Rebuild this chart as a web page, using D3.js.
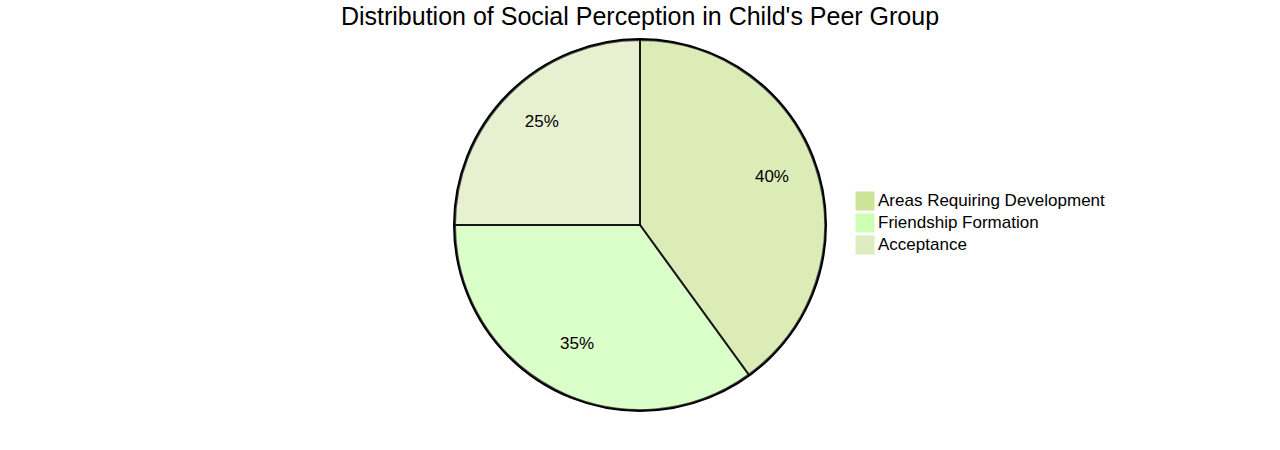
<!DOCTYPE html>
<html lang="en">
<head>
<meta charset="utf-8">
<title>Distribution of Social Perception in Child's Peer Group</title>
<script src="https://cdn.jsdelivr.net/npm/d3@7"></script>
<style>
  body { margin: 0; background: #fff; }
  text { font-family: "Liberation Sans", Arial, sans-serif; fill: #000; }
</style>
</head>
<body>
<script>

// Data
var labels = ["Areas Requiring Development", "Friendship Formation", "Acceptance"];
var values = [40, 35, 25];
var colors = ["#cde498", "#cdffb2", "#deecbf"];
var title = "Distribution of Social Perception in Child's Peer Group";

var width = 1280, height = 450;
var radius = Math.min(width, height) / 2 - 40;

var svg = d3.select("body").append("svg")
    .attr("width", width)
    .attr("height", height);

var g = svg.append("g")
    .attr("transform", "translate(" + width / 2 + "," + height / 2 + ")");

var data = labels.map(function(l, i) { return { label: l, value: values[i], color: colors[i] }; });

var pie = d3.pie().sort(null).value(function(d) { return d.value; });
var arc = d3.arc().innerRadius(0).outerRadius(radius);
var labelArc = d3.arc().innerRadius(radius * 0.75).outerRadius(radius * 0.75);
var total = d3.sum(values);

var arcs = pie(data);

// outer ring
g.append("circle")
    .attr("r", radius + 1)
    .attr("fill", "none")
    .attr("stroke", "#000")
    .attr("stroke-width", 2);

g.selectAll("path.slice")
    .data(arcs)
    .enter().append("path")
    .attr("class", "slice")
    .attr("d", arc)
    .attr("fill", function(d) { return d.data.color; })
    .attr("opacity", 0.7)
    .attr("stroke", "#000")
    .attr("stroke-width", 2);

g.selectAll("text.pct")
    .data(arcs)
    .enter().append("text")
    .attr("class", "pct")
    .attr("transform", function(d) { return "translate(" + labelArc.centroid(d) + ")"; })
    .attr("text-anchor", "middle")
    .style("font-size", "17px")
    .text(function(d) { return Math.round(d.data.value / total * 100) + "%"; });

// title
g.append("text")
    .attr("x", 0)
    .attr("y", -(height - 50) / 2)
    .attr("text-anchor", "middle")
    .style("font-size", "25px")
    .text(title);

// legend
var rectSize = 18, spacing = 4;
var legend = g.selectAll("g.legend")
    .data(data)
    .enter().append("g")
    .attr("class", "legend")
    .attr("transform", function(d, i) {
        var h = rectSize + spacing;
        var offset = h * data.length / 2;
        return "translate(" + (12 * rectSize) + "," + (i * h - offset) + ")";
    });

legend.append("rect")
    .attr("width", rectSize)
    .attr("height", rectSize)
    .attr("fill", function(d) { return d.color; })
    .attr("stroke", function(d) { return d.color; });

legend.append("text")
    .attr("x", rectSize + spacing)
    .attr("y", rectSize - spacing)
    .style("font-size", "17px")
    .text(function(d) { return d.label; });

</script>
</body>
</html>
